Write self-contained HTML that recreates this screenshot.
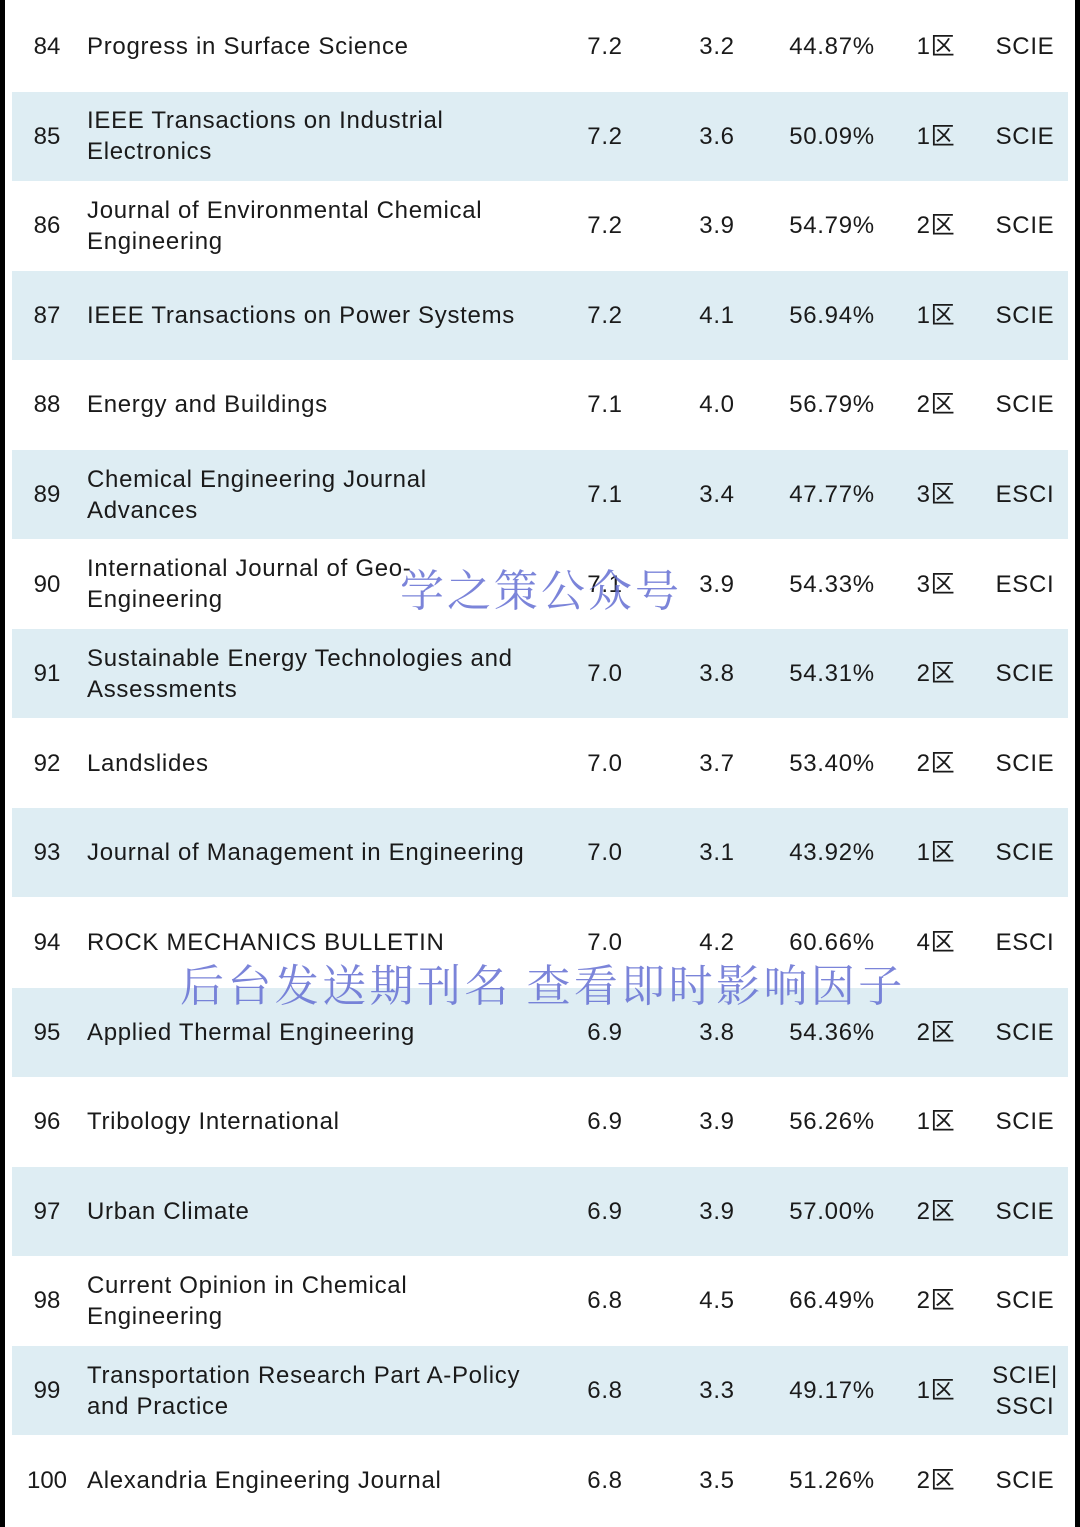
<!DOCTYPE html>
<html><head><meta charset="utf-8">
<style>
html,body{margin:0;padding:0}
body{width:1080px;height:1527px;position:relative;background:#fff;overflow:hidden;font-family:"Liberation Sans","Noto Sans CJK SC",sans-serif;color:#1a1a1a}
.bl{position:absolute;left:0;top:0;width:5px;height:1527px;background:#000}
.br{position:absolute;right:0;top:0;width:5px;height:1527px;background:#000}
.row{position:absolute;left:12px;width:1056px;height:89px}
.row.s{background:#deedf3}
.c{position:absolute;top:0;height:89px;display:flex;align-items:center;font-size:24px;line-height:31px;letter-spacing:0.7px}
.num{left:0;width:70px;justify-content:center;letter-spacing:0}
.name{left:75px;width:470px}
.c.ctr{justify-content:center;text-align:center}
.wm{position:absolute;font-family:"Noto Serif CJK SC","WenQuanYi Zen Hei",serif;color:rgba(100,110,210,0.85);font-size:44px;white-space:nowrap}
</style></head>
<body>
<div class="bl"></div>
<div class="br"></div>
<div id="tbl"></div>
<div class="wm" style="left:400px;top:555px;letter-spacing:3px">学之策公众号</div>
<div class="wm" style="left:180px;top:950px;letter-spacing:3.4px">后台发送期刊名 查看即时影响因子</div>
<script>
const ranks=[84,85,86,87,88,89,90,91,92,93,94,95,96,97,98,99,100];
const names=["Progress in Surface Science","IEEE Transactions on Industrial<br>Electronics","Journal of Environmental Chemical<br>Engineering","IEEE Transactions on Power Systems","Energy and Buildings","Chemical Engineering Journal<br>Advances","International Journal of Geo-<br>Engineering","Sustainable Energy Technologies and<br>Assessments","Landslides","Journal of Management in Engineering","ROCK MECHANICS BULLETIN","Applied Thermal Engineering","Tribology International","Urban Climate","Current Opinion in Chemical<br>Engineering","Transportation Research Part A-Policy<br>and Practice","Alexandria Engineering Journal"];
const ifs=["7.2","7.2","7.2","7.2","7.1","7.1","7.1","7.0","7.0","7.0","7.0","6.9","6.9","6.9","6.8","6.8","6.8"];
const col2=["3.2","3.6","3.9","4.1","4.0","3.4","3.9","3.8","3.7","3.1","4.2","3.8","3.9","3.9","4.5","3.3","3.5"];
const pcts=["44.87%","50.09%","54.79%","56.94%","56.79%","47.77%","54.33%","54.31%","53.40%","43.92%","60.66%","54.36%","56.26%","57.00%","66.49%","49.17%","51.26%"];
const zones=["1区","1区","2区","1区","2区","3区","3区","2区","2区","1区","4区","2区","1区","2区","2区","1区","2区"];
const idx=["SCIE","SCIE","SCIE","SCIE","SCIE","ESCI","ESCI","SCIE","SCIE","SCIE","ESCI","SCIE","SCIE","SCIE","SCIE","SCIE|<br>SSCI","SCIE"];
const tbl=document.getElementById('tbl');
const rowH=89.6;
const cols=[[ifs,605,80],[col2,717,80],[pcts,832,120],[zones,936,70],[idx,1025,90]];
ranks.forEach((r,i)=>{
  const row=document.createElement('div');
  
  
  row.className='row'+(i%2===1?' s':'');
  row.style.top=(2+i*rowH)+'px';
  let h='<div class="c num">'+r+'</div>';
  h+='<div class="c name"><span>'+names[i]+'</span></div>';
  const nm=['impact-factor','five-year-value','percentage','zone','index-type'];
  cols.forEach((c,k)=>{
    h+='<div class="c ctr" style="left:'+(c[1]-12-c[2]/2)+'px;width:'+c[2]+'px"><span>'+c[0][i]+'</span></div>';
  });
  row.innerHTML=h;
  tbl.appendChild(row);
});
</script>
</body></html>
